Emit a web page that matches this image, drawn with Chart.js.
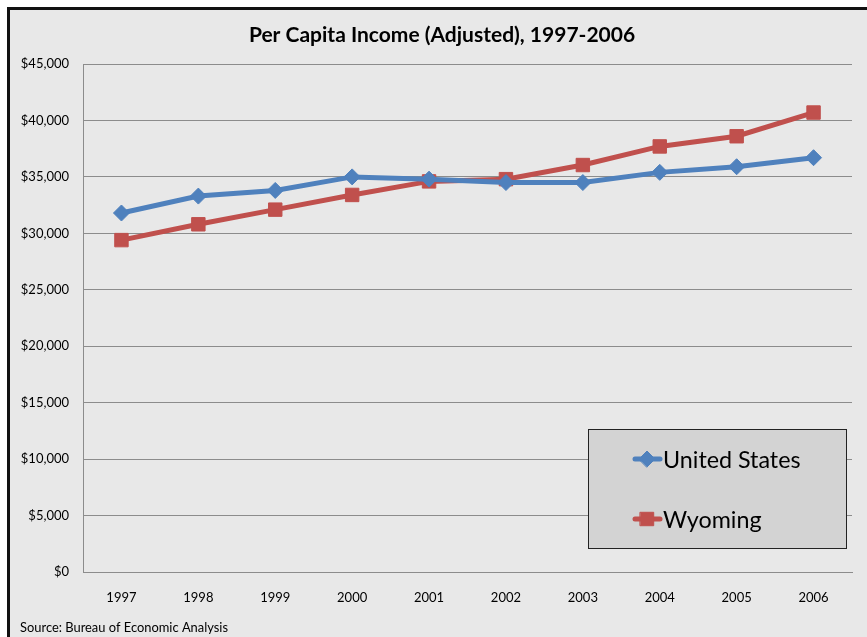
<!DOCTYPE html>
<html>
<head>
<meta charset="utf-8">
<script src="https://cdn.jsdelivr.net/npm/chart.js@4"></script>
<style>
  html, body { margin: 0; padding: 0; background: #fff; overflow: hidden; }
  .frame {
    position: absolute; left: 7px; top: 7px; width: 900px; height: 700px;
    background: #e8e8e8; border: 3px solid #111; box-sizing: border-box;
  }
  .wrap { position: absolute; left: 0; top: 0; width: 867px; height: 637px; }
</style>
</head>
<body>
<div class="frame"></div>
<div class="wrap"><canvas id="incomeChart" width="867" height="637"></canvas></div>
<script>
// data
const years = ['1997', '1998', '1999', '2000', '2001', '2002', '2003', '2004', '2005', '2006'];
const unitedStates = [31800, 33300, 33800, 35000, 34800, 34500, 34500, 35400, 35900, 36700];
const wyoming = [29400, 30800, 32100, 33400, 34600, 34800, 36050, 37700, 38600, 40700];
const yTickMax = 45000;
const yTickStep = 5000;
const chartTitle = 'Per Capita Income (Adjusted), 1997-2006';
const sourceNote = 'Source: Bureau of Economic Analysis';

const FONT = 'Lato, "Open Sans", sans-serif';

// title, boxed legend and source line, placed like the original
const decorations = {
  id: 'decorations',
  afterDraw(chart) {
    const ctx = chart.ctx;
    ctx.save();

    ctx.fillStyle = '#000';
    ctx.font = 'bold 21px ' + FONT;
    ctx.textAlign = 'center';
    ctx.textBaseline = 'middle';
    ctx.fillText(chartTitle, 442, 35);

    ctx.fillStyle = '#d3d3d3';
    ctx.fillRect(588, 429, 259, 120);
    ctx.strokeStyle = '#222';
    ctx.lineWidth = 1;
    ctx.strokeRect(588.5, 429.5, 258, 119);

    const rows = [459, 519];
    chart.data.datasets.forEach((ds, i) => {
      const y = rows[i];
      ctx.strokeStyle = ds.borderColor;
      ctx.lineWidth = 5;
      ctx.lineCap = 'round';
      ctx.beginPath();
      ctx.moveTo(635, y);
      ctx.lineTo(660, y);
      ctx.stroke();
      ctx.fillStyle = ds.backgroundColor;
      ctx.strokeStyle = ds.borderColor;
      ctx.lineWidth = 1;
      Chart.helpers.drawPoint(ctx, { pointStyle: ds.pointStyle, radius: ds.pointRadius, borderWidth: 1 }, 647, y);
      ctx.fillStyle = '#000';
      ctx.font = '23.3px ' + FONT;
      ctx.textBaseline = 'middle';
      ctx.textAlign = 'left';
      ctx.fillText(ds.label, 663, y + 1);
    });

    ctx.font = '12.9px ' + FONT;
    ctx.fillStyle = '#000';
    ctx.textAlign = 'left';
    ctx.textBaseline = 'middle';
    ctx.fillText(sourceNote, 20, 628);
    ctx.restore();
  }
};

const ctx = document.getElementById('incomeChart').getContext('2d');

new Chart(ctx, {
  type: 'line',
  data: {
    labels: years,
    datasets: [
      {
        label: 'United States',
        data: unitedStates,
        borderColor: '#4f81bd',
        backgroundColor: '#4f81bd',
        borderWidth: 5,
        pointStyle: 'rectRot',
        pointRadius: 8,
        pointBorderWidth: 1,
        tension: 0,
      },
      {
        label: 'Wyoming',
        data: wyoming,
        borderColor: '#c0504d',
        backgroundColor: '#c0504d',
        borderWidth: 5,
        pointStyle: 'rect',
        pointRadius: 9.5,
        pointBorderWidth: 1,
        tension: 0,
      },
    ],
  },
  options: {
    responsive: false,
    animation: false,
    layout: { padding: { left: 0, right: 15, top: 64, bottom: 0 } },
    scales: {
      x: {
        offset: true,
        grid: { display: false, drawTicks: false },
        border: { display: true, color: '#8c8c8c', width: 1 },
        ticks: { color: '#000', padding: 18, font: { family: FONT, size: 13 } },
        afterFit: (scale) => { scale.height = 65; },
      },
      y: {
        min: 0,
        max: yTickMax,
        grid: { color: '#8c8c8c', lineWidth: 1, drawTicks: false },
        border: { display: true, color: '#8c8c8c', width: 1 },
        ticks: {
          stepSize: yTickStep,
          color: '#000',
          padding: 14,
          font: { family: FONT, size: 13 },
          callback: (value) => '$' + value.toLocaleString('en-US'),
        },
        afterFit: (scale) => { scale.width = 83; },
      },
    },
    plugins: {
      legend: { display: false },
      tooltip: { enabled: false },
      title: { display: false },
    },
  },
  plugins: [decorations],
});
</script>
</body>
</html>
